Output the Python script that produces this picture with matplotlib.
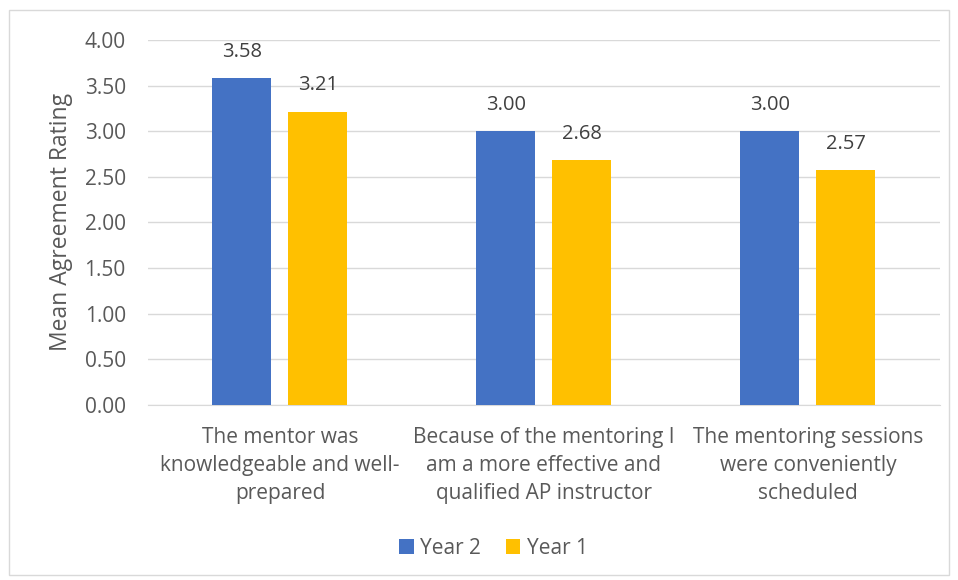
import numpy as np
import matplotlib.pyplot as plt
from matplotlib.patches import Rectangle

plt.rcParams['font.family'] = ['Open Sans', 'DejaVu Sans']

categories = ["The mentor was\nknowledgeable and well-\nprepared",
              "Because of the mentoring I\nam a more effective and\nqualified AP instructor",
              "The mentoring sessions\nwere conveniently\nscheduled"]
year2 = [3.58, 3.00, 3.00]
year1 = [3.21, 2.68, 2.57]
yticks = [0.0, 0.5, 1.0, 1.5, 2.0, 2.5, 3.0, 3.5, 4.0]

txt = '#595959'
blue = '#4472C4'
gold = '#FFC000'

fig = plt.figure(figsize=(9.58, 5.80), dpi=100)
ax = fig.add_axes([0.1545, 0.302, 0.8265, 0.629])

# outer chart border
fig.patches.append(Rectangle((0.009, 0.008), 0.982, 0.975, transform=fig.transFigure,
                             fill=False, edgecolor='#D9D9D9', linewidth=1))

x = np.arange(len(categories))
w = 0.2236
off = 0.144
b2 = ax.bar(x - off, year2, w, color=blue, label='Year 2', zorder=3)
b1 = ax.bar(x + off, year1, w, color=gold, label='Year 1', zorder=3)
for bars in (b2, b1):
    ax.bar_label(bars, labels=[f'{v:.2f}' for v in bars.datavalues], padding=12,
                 fontsize=14.5, color='#404040')

ax.set_xlim(-0.5, 2.5)
ax.set_ylim(0, 4)
ax.set_yticks(yticks)
ax.set_yticklabels([f'{v:.2f}' for v in yticks])
ax.set_xticks(x)
ax.set_xticklabels(categories, linespacing=1.45)
ax.tick_params(axis='both', length=0, labelsize=15, labelcolor=txt)
ax.tick_params(axis='y', pad=16)
ax.tick_params(axis='x', pad=16)
ax.yaxis.grid(True, color='#D9D9D9', linewidth=1, zorder=0)
for s in ['top', 'right', 'left']:
    ax.spines[s].set_visible(False)
ax.spines['bottom'].set_color('#D9D9D9')
ax.set_ylabel('Mean Agreement Rating', fontsize=16.5, color=txt, labelpad=8)

fig.legend(handles=[b2, b1], loc='center', bbox_to_anchor=(0.515, 0.055), ncol=2,
           frameon=False, fontsize=15, labelcolor=txt, handlelength=0.7, handleheight=0.7,
           handletextpad=0.3, columnspacing=1.2)

fig.savefig('out.png', dpi=100)
